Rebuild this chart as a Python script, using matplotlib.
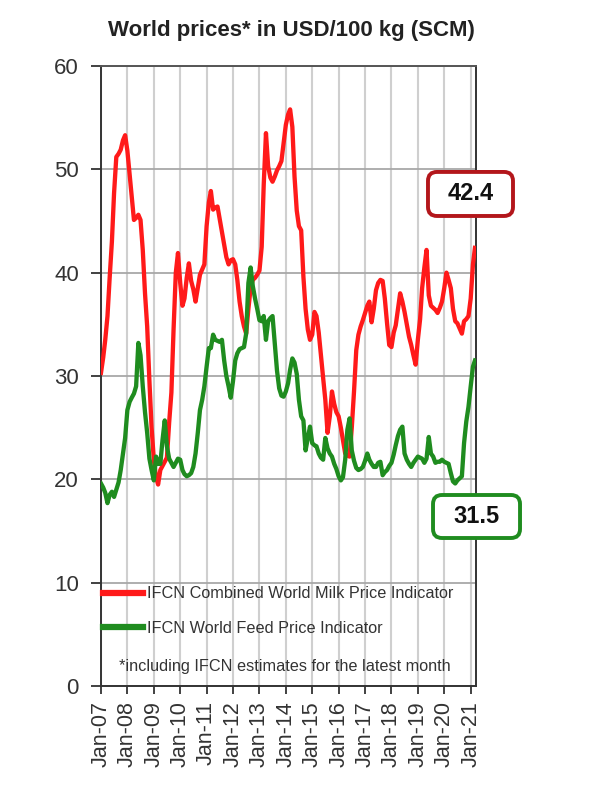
import matplotlib
matplotlib.use("Agg")
import matplotlib.pyplot as plt
from matplotlib.patches import FancyBboxPatch
import pandas as pd

plt.rcParams["font.family"] = ["Liberation Sans", "DejaVu Sans"]

# monthly values, Jan-07 .. Mar-21 (USD/100 kg)
MILK = [
    30.3, 31.8, 33.5, 35.8, 39.5, 43.0, 47.7, 51.2, 51.5, 51.9, 52.8, 53.3,
    51.8, 49.5, 47.3, 45.1, 45.3, 45.6, 45.1, 42.2, 38.0, 34.8, 29.5, 25.0,
    21.9, 20.2, 19.5, 20.9, 21.3, 21.7, 22.1, 25.5, 28.4, 34.5, 40.0, 41.9,
    39.0, 36.8, 37.5, 39.5, 40.9, 39.2, 38.4, 37.2, 38.5, 39.8, 40.3, 40.8,
    44.5, 46.8, 47.9, 46.1, 46.3, 46.4, 45.2, 44.0, 42.7, 41.5, 40.8, 41.2,
    41.3, 40.8, 39.3, 37.2, 35.8, 34.8, 34.1, 36.5, 38.5, 39.3, 39.5, 39.8,
    40.2, 42.5, 48.5, 53.5, 50.3, 49.2, 48.8, 49.3, 49.9, 50.3, 50.8, 52.5,
    54.3, 55.3, 55.8, 54.1, 49.3, 46.0, 44.5, 44.1, 39.6, 36.5, 34.5, 33.5,
    34.0, 36.2, 35.8, 34.2, 32.0, 29.8, 27.7, 24.5, 26.1, 28.5, 27.3, 26.5,
    26.1, 25.0, 23.8, 22.5, 22.3, 22.2, 25.0, 28.5, 32.5, 34.0, 34.8, 35.4,
    36.1, 36.8, 37.2, 35.2, 36.5, 38.3, 39.0, 39.3, 39.2, 37.5, 35.1, 33.0,
    32.8, 34.2, 34.9, 36.5, 38.0, 37.2, 36.2, 35.0, 33.8, 33.0, 32.0, 31.1,
    33.5, 35.5, 38.5, 40.5, 42.2, 37.8, 36.8, 36.6, 36.4, 36.1, 36.6, 37.2,
    38.5, 40.0, 39.3, 38.5, 36.5, 35.3, 35.1, 34.6, 34.1, 35.3, 35.5, 35.8,
    37.5, 40.8, 42.4,
]
FEED = [
    19.6, 19.2, 18.7, 17.7, 18.5, 18.8, 18.3, 19.0, 19.7, 20.9, 22.5, 24.0,
    26.7, 27.5, 27.9, 28.3, 29.0, 33.2, 32.0, 29.0, 26.5, 24.5, 22.0, 20.9,
    19.9, 22.2, 21.5, 21.5, 23.8, 25.7, 23.2, 22.0, 21.6, 21.2, 21.6, 22.0,
    21.9, 20.9, 20.5, 20.3, 20.4, 20.6, 21.2, 22.5, 24.5, 26.7, 27.7, 29.0,
    30.9, 32.7, 32.7, 34.0, 33.5, 33.4, 33.3, 33.5, 31.5, 30.0, 29.0, 27.9,
    29.5, 31.5, 32.2, 32.6, 32.7, 32.8, 34.1, 39.0, 40.5, 38.7, 37.5, 36.5,
    35.4, 35.3, 35.8, 33.5, 35.3, 35.6, 35.8, 33.2, 30.5, 28.8, 28.1, 28.0,
    28.5, 29.3, 30.6, 31.7, 31.3, 30.2, 27.7, 26.1, 25.7, 22.8, 24.0, 25.1,
    23.5, 23.3, 23.2, 22.5, 22.1, 21.9, 24.0, 23.0, 22.5, 22.2, 21.5, 21.0,
    20.3, 19.9, 20.2, 21.9, 24.8, 25.9, 22.8, 21.8, 21.1, 20.9, 21.0, 21.2,
    21.8, 22.5, 21.9, 21.5, 21.2, 21.2, 21.6, 21.7, 20.4, 20.7, 20.9, 21.3,
    21.6, 22.4, 23.3, 24.2, 24.8, 25.1, 22.5, 21.9, 21.5, 21.2, 21.6, 21.9,
    22.2, 22.1, 22.0, 21.6, 22.0, 24.1, 22.5, 22.2, 21.6, 21.7, 21.7, 21.9,
    21.7, 21.6, 21.5, 20.6, 19.8, 19.6, 19.9, 20.1, 20.3, 23.5, 25.6, 27.0,
    29.0, 30.9, 31.5,
]
MONTHS = pd.date_range("2007-01-01", periods=len(MILK), freq="MS")
TICK_YEARS = list(range(2007, 2022))
Y_TICKS = [0, 10, 20, 30, 40, 50, 60]

TITLE = "World prices* in USD/100 kg (SCM)"
MILK_LABEL = "IFCN Combined World Milk Price Indicator"
FEED_LABEL = "IFCN World Feed Price Indicator"
NOTE = "*including IFCN estimates for the latest month"

RED = "#ff1a1a"
GREEN = "#1f8c1f"
TEXT = "#333333"

fig = plt.figure(figsize=(6, 7.92), dpi=100)
ax = fig.add_axes([0.1683, 0.1338, 0.625, 0.7829])

ax.plot(MONTHS, MILK, color=RED, lw=3.1, label=MILK_LABEL,
        solid_joinstyle="round", zorder=3)
ax.plot(MONTHS, FEED, color=GREEN, lw=3.1, label=FEED_LABEL,
        solid_joinstyle="round", zorder=3)

ax.set_ylim(0, 60)
ax.set_yticks(Y_TICKS)
ticks = [pd.Timestamp(f"{y}-01-01") for y in TICK_YEARS]
ax.set_xlim(MONTHS[0], pd.Timestamp("2021-03-15"))
ax.set_xticks(ticks)
ax.set_xticklabels([t.strftime("%b-%y") for t in ticks], rotation=90)

ax.grid(axis="y", color="#a8a8a8", lw=1.3)
ax.grid(axis="x", color="#cfcfcf", lw=1.5)
ax.set_axisbelow(True)

for side in ["left", "bottom", "right", "top"]:
    ax.spines[side].set_color("#333333")
    ax.spines[side].set_linewidth(1.4)
ax.spines["top"].set_color("#555555")

ax.tick_params(axis="both", direction="out", width=1.3,
               color="#333333", labelcolor=TEXT)
ax.tick_params(axis="y", labelsize=16, length=7, pad=9)
ax.tick_params(axis="x", labelsize=15.5, length=5.5, pad=5.5)

leg = ax.legend(loc="center left", bbox_to_anchor=(0.005, 0.121),
                frameon=False, fontsize=11.7, handlelength=2.5,
                handletextpad=0.2, labelspacing=1.2, borderpad=0,
                borderaxespad=0)
for line in leg.get_lines():
    line.set_linewidth(4.5)
for txt in leg.get_texts():
    txt.set_color(TEXT)

ax.text(0.49, 0.032, NOTE, transform=ax.transAxes, ha="center",
        va="center", fontsize=11.7, color=TEXT)

fig.text(0.485, 0.961, TITLE, ha="center", va="center", fontsize=16,
         fontweight="bold", color="#222222")

# value boxes for the latest month
aspect = 600 / 792
for (x0, y0, w, h), val, col in [
    ((0.7133, 0.7273, 0.1417, 0.0556), MILK[-1], "#b3161b"),
    ((0.7217, 0.3207, 0.1450, 0.0543), FEED[-1], GREEN),
]:
    box = FancyBboxPatch((x0, y0), w, h, transform=fig.transFigure,
                         boxstyle="round,pad=0,rounding_size=0.015",
                         mutation_aspect=aspect, facecolor="white",
                         edgecolor=col, lw=2.8, zorder=5)
    fig.patches.append(box)
    fig.text(x0 + w / 2, y0 + h / 2, f"{val:.1f}", ha="center", va="center",
             fontsize=17, fontweight="bold", color="#111111", zorder=6)

fig.savefig("out.png", dpi=100)
